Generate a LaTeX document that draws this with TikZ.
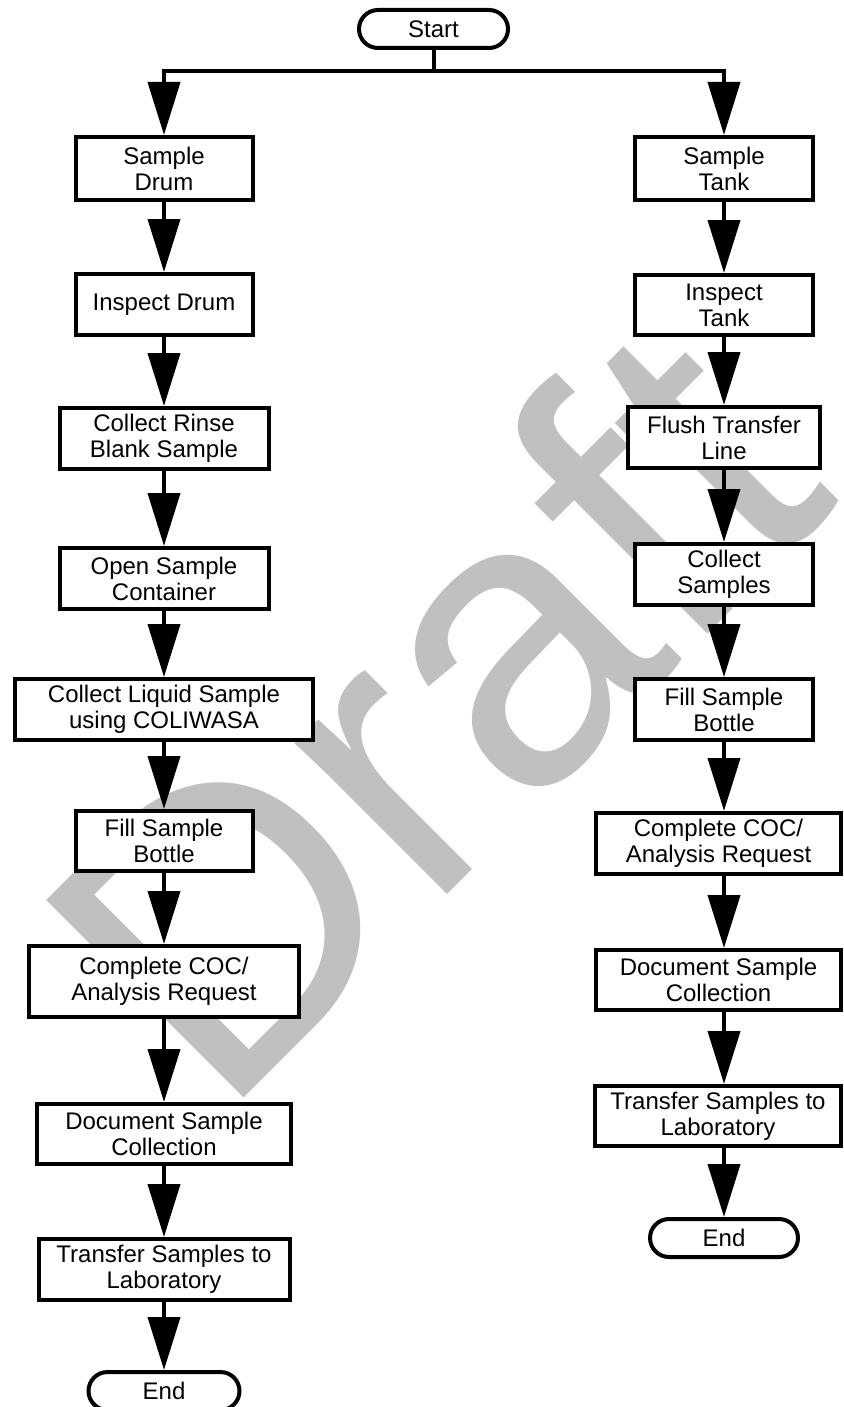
\documentclass[tikz,border=0pt]{standalone}
\usepackage{fontspec}
\setmainfont{Liberation Sans}
\newfontfamily\wmfont{Liberation Sans}[Kerning=Off]
\usetikzlibrary{arrows.meta,shapes.misc}
\definecolor{wmgray}{RGB}{192,192,192}
\tikzset{
  stepbox/.style={draw=black, fill=white, line width=4pt, rectangle, align=center,
    inner sep=0pt, font=\fontsize{24}{26}\selectfont, minimum height=61pt},
  term/.style={draw=black, fill=white, line width=4pt, rounded rectangle, inner sep=0pt,
    font=\fontsize{24}{26}\selectfont, minimum width=149pt, minimum height=38pt},
  flow/.style={line width=4pt, -{Triangle[length=53pt,width=32pt]}},
  bus/.style={line width=4pt, {Triangle[length=53pt,width=32pt]}-{Triangle[length=53pt,width=32pt]}},
  plain/.style={line width=4pt},
}
\begin{document}
\begin{tikzpicture}[x=1pt,y=-1pt]
\useasboundingbox (0,0) rectangle (843,1407);

% watermark behind the chart
\node[rotate=45, anchor=base west, inner sep=0pt, text=wmgray,
      font=\wmfont\fontsize{406}{406}\selectfont] (wm) at (220,1122) {Draft};

% start
\node[term] (start) at (433.5,29) {Start};
\coordinate (split) at (433.5,71);

% drum branch
\node[stepbox, minimum width=177pt, minimum height=63pt] (d1) at (164,168.5) {Sample\\Drum};
\node[stepbox, minimum width=177pt] (d2) at (164,304.5) {Inspect Drum};
\node[stepbox, minimum width=209pt] (d3) at (164,438.5) {Collect Rinse\\Blank Sample};
\node[stepbox, minimum width=209pt] (d4) at (164,578.5) {Open Sample\\Container};
\node[stepbox, minimum width=298pt] (d5) at (164,709.5) {Collect Liquid Sample\\using COLIWASA};
\node[stepbox, minimum width=177pt, minimum height=60pt] (d6) at (164,841) {Fill Sample\\Bottle};
\node[stepbox, minimum width=270pt, minimum height=71pt] (d7) at (164,981.5) {Complete COC/\\Analysis Request};
\node[stepbox, minimum width=254pt, minimum height=60pt] (d8) at (164,1134) {Document Sample\\Collection};
\node[stepbox, minimum width=251pt] (d9) at (164,1269.5) {Transfer Samples to\\Laboratory};
\node[term, minimum width=151pt] (dend) at (164,1391) {End};

% tank branch
\coordinate (rc) at (724,0);
\node[stepbox, minimum width=178pt, minimum height=63pt] (t1) at (724,168.5) {Sample\\Tank};
\node[stepbox, minimum width=178pt, minimum height=60pt] (t2) at (724,305) {Inspect\\Tank};
\node[stepbox, minimum width=192pt] (t3) at (724,437.5) {Flush Transfer\\Line};
\node[stepbox, minimum width=178pt] (t4) at (724,574.5) {Collect\\Samples};
\node[stepbox, minimum width=178pt] (t5) at (724,709.5) {Fill Sample\\Bottle};
\node[stepbox, minimum width=245pt] (t6) at (718.5,843.5) {Complete COC/\\Analysis Request};
\node[stepbox, minimum width=245pt, minimum height=60pt] (t7) at (718.5,980) {Document Sample\\Collection};
\node[stepbox, minimum width=246pt, minimum height=60pt] (t8) at (718,1116) {Transfer Samples to\\Laboratory};
\node[term, minimum width=148pt] (tend) at (724,1238) {End};

% split from start into both branches
\draw[plain] (start.south) -- (split);
\draw[bus] (d1.north) -- (d1.north |- split) -- (t1.north |- split) -- (t1.north);

% drum connectors
\draw[flow] (d1.south) -- (d2.north);
\draw[flow] (d2.south) -- (d3.north);
\draw[flow] (d3.south) -- (d4.north);
\draw[flow] (d4.south) -- (d5.north);
\draw[flow] (d5.south) -- (d6.north);
\draw[flow] (d6.south) -- (d7.north);
\draw[flow] (d7.south) -- (d8.north);
\draw[flow] (d8.south) -- (d9.north);
\draw[flow] (d9.south) -- (dend.north);

% tank connectors
\draw[flow] (t1.south) -- (t2.north);
\draw[flow] (t2.south) -- (t3.north);
\draw[flow] (t3.south) -- (t4.north);
\draw[flow] (t4.south) -- (t5.north);
\draw[flow] (t5.south) -- (rc |- t6.north);
\draw[flow] (rc |- t6.south) -- (rc |- t7.north);
\draw[flow] (rc |- t7.south) -- (rc |- t8.north);
\draw[flow] (rc |- t8.south) -- (tend.north);
\end{tikzpicture}
\end{document}
